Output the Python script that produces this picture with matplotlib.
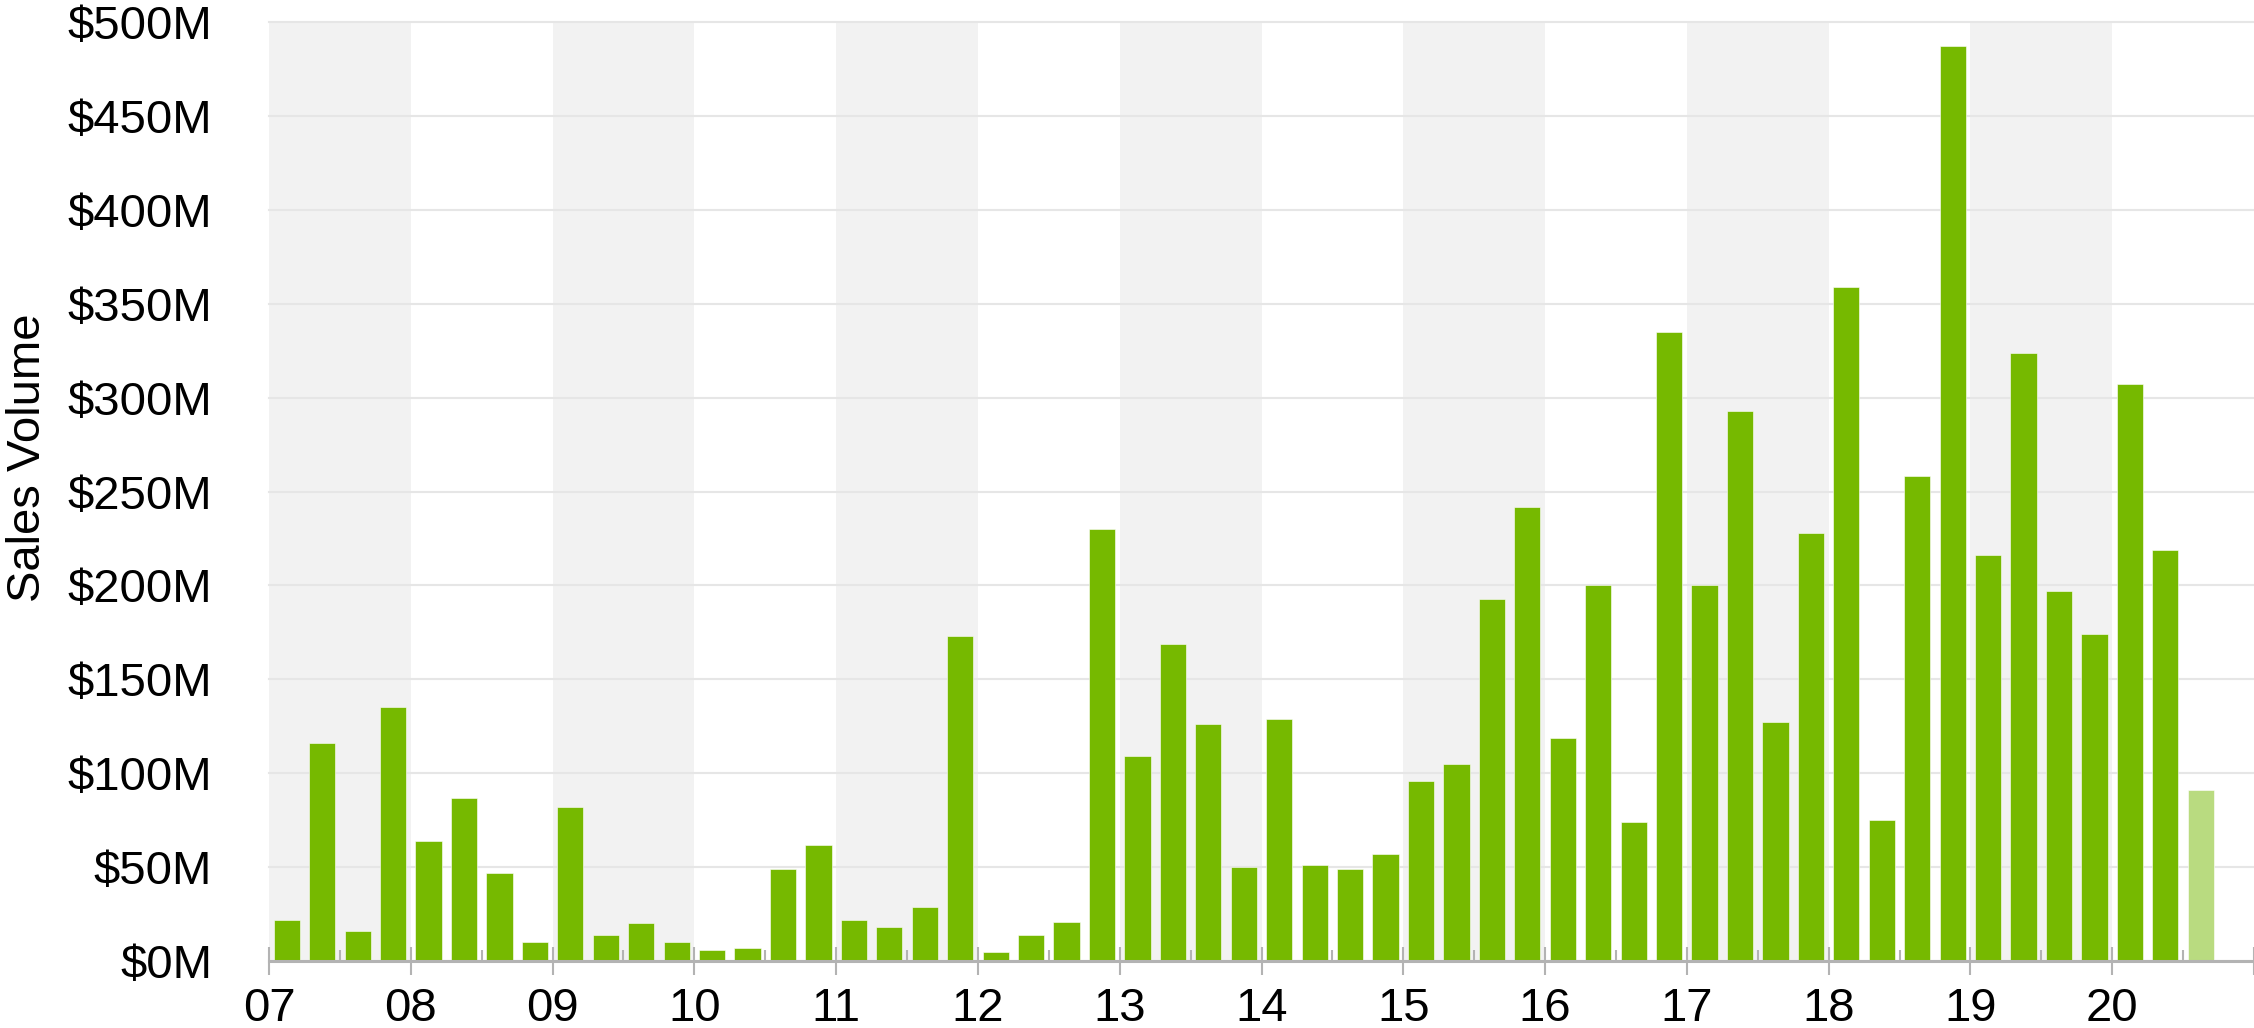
import matplotlib
matplotlib.use("Agg")
import matplotlib.pyplot as plt
import numpy as np

plt.rcParams["font.family"] = ["Liberation Sans", "DejaVu Sans"]

YEARS = ["07", "08", "09", "10", "11", "12", "13", "14", "15", "16", "17", "18", "19", "20"]

# quarterly sales volume in $M, 2007 Q1 .. 2020 Q3 (last quarter is partial)
SALES = [
    22, 116, 16, 135,
    64, 87, 47, 10,
    82, 14, 20, 10,
    6, 7, 49, 62,
    22, 18, 29, 173,
    5, 14, 21, 230,
    109, 169, 126, 50,
    129, 51, 49, 57,
    96, 105, 193, 242,
    119, 200, 74, 335,
    200, 293, 127, 228,
    359, 75, 258, 487,
    216, 324, 197, 174,
    307, 219, 91,
]
PARTIAL_QUARTERS = 1

Y_TICKS = [0, 50, 100, 150, 200, 250, 300, 350, 400, 450, 500]

GREEN = "#76b900"
LIGHT_GREEN = "#b9db80"
AXIS_GRAY = "#b3b3b3"

fig = plt.figure(figsize=(22.54, 10.28), dpi=100)
ax = fig.add_axes([269 / 2254, 1 - 961 / 1028, 1 - 269 / 2254, (961 - 22) / 1028])

n_years = len(YEARS)
# alternate year shading, starting with the first year
for i in range(0, n_years, 2):
    ax.axvspan(4 * i, 4 * i + 4, color="#f2f2f2", zorder=0, lw=0)

x = np.arange(len(SALES)) + 0.5
colors = [GREEN] * (len(SALES) - PARTIAL_QUARTERS) + [LIGHT_GREEN] * PARTIAL_QUARTERS
ax.bar(x, SALES, width=0.74, color=colors, zorder=2, edgecolor="white", linewidth=0.4)

ax.set_xlim(0, 4 * n_years)
ax.set_ylim(0, 500)

ax.set_yticks(Y_TICKS)
ax.set_yticklabels([f"${v}M" for v in Y_TICKS])
ax.yaxis.grid(True, color="#e6e6e6", linewidth=1.5, clip_on=False)
ax.set_axisbelow(True)
ax.tick_params(axis="y", length=0, pad=41, labelsize=34)

ax.set_xticks(np.arange(0, 4 * n_years + 1, 4))
ax.set_xticklabels(YEARS + [""])
ax.set_xticks(np.arange(2, 4 * n_years, 4), minor=True)
ax.tick_params(axis="x", which="major", direction="inout", length=20, width=1.5,
               color=AXIS_GRAY, labelsize=34, pad=8.5)
ax.tick_params(axis="x", which="minor", direction="in", length=8, width=1.5, color=AXIS_GRAY)

for side in ["top", "right", "left"]:
    ax.spines[side].set_visible(False)
ax.spines["bottom"].set_color(AXIS_GRAY)
ax.spines["bottom"].set_linewidth(2.2)
ax.spines["bottom"].set_zorder(3)

fig.text(28 / 2254, 1 - 458 / 1028, "Sales Volume", rotation=90, ha="center", va="center", fontsize=34)

fig.savefig("out.png", dpi=100)
